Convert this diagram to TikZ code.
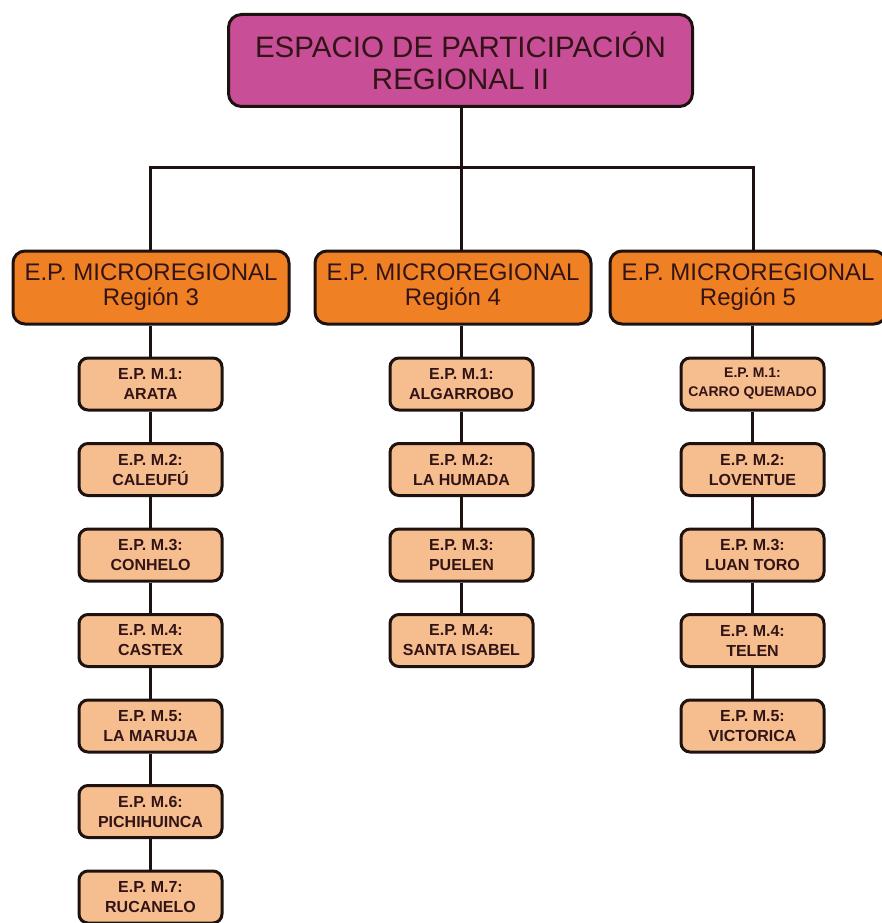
\documentclass[tikz,border=0pt]{standalone}
\usepackage{fontspec}
\setmainfont{Liberation Sans}
\definecolor{topc}{RGB}{200,78,152}
\definecolor{midc}{RGB}{240,128,36}
\definecolor{smallc}{RGB}{246,190,142}
\definecolor{edgec}{RGB}{30,18,16}
\definecolor{txtc}{RGB}{50,20,22}
\begin{document}
\begin{tikzpicture}[x=1pt,y=-1pt,
  base/.style={draw=edgec,line width=3pt,text=txtc,align=center,inner sep=0pt},
  topbox/.style={base,fill=topc,rounded corners=13pt,minimum width=464pt,minimum height=92pt,
     font=\fontsize{29.5}{32}\selectfont},
  midbox/.style={base,fill=midc,rounded corners=12pt,minimum width=276pt,minimum height=73pt,
     font=\fontsize{24}{25}\selectfont},
  smallbox/.style={base,fill=smallc,rounded corners=9pt,minimum width=143pt,minimum height=52pt,
     font=\bfseries\fontsize{16}{20}\selectfont},
  conn/.style={draw=edgec,line width=3pt}]
\useasboundingbox (0,0) rectangle (882,923);
\node[topbox] (top) at (460.5,60.5) {ESPACIO DE PARTICIPACIÓN\\REGIONAL II};
\node[midbox] (r3) at (151,287.5) {E.P. MICROREGIONAL\\Región 3};
\node[midbox] (r4) at (453,287.5) {E.P. MICROREGIONAL\\Región 4};
\node[midbox] (r5) at (748,287.5) {E.P. MICROREGIONAL\\Región 5};
\coordinate (hl) at (150,167);
\coordinate (hm) at (461,167);
\coordinate (hr) at (753,167);
% column region 3
\node[smallbox] (a1) at (150.5,384) {E.P. M.1:\\ARATA};
\node[smallbox] (a2) at (150.5,469.5) {E.P. M.2:\\CALEUFÚ};
\node[smallbox] (a3) at (150.5,555) {E.P. M.3:\\CONHELO};
\node[smallbox] (a4) at (150.5,640.5) {E.P. M.4:\\CASTEX};
\node[smallbox] (a5) at (150.5,726) {E.P. M.5:\\LA MARUJA};
\node[smallbox] (a6) at (150.5,811.5) {E.P. M.6:\\PICHIHUINCA};
\node[smallbox] (a7) at (150.5,897) {E.P. M.7:\\RUCANELO};
% column region 4
\node[smallbox] (b1) at (461.5,384) {E.P. M.1:\\ALGARROBO};
\node[smallbox] (b2) at (461.5,469.5) {E.P. M.2:\\LA HUMADA};
\node[smallbox] (b3) at (461.5,555) {E.P. M.3:\\PUELEN};
\node[smallbox] (b4) at (461.5,640.5) {E.P. M.4:\\SANTA ISABEL};
% column region 5
\node[smallbox,font=\bfseries\fontsize{14}{19}\selectfont] (c1) at (752.5,384) {E.P. M.1:\\CARRO QUEMADO};
\node[smallbox] (c2) at (752.5,469.5) {E.P. M.2:\\LOVENTUE};
\node[smallbox] (c3) at (752.5,555) {E.P. M.3:\\LUAN TORO};
\node[smallbox] (c4) at (752.5,640.5) {E.P. M.4:\\TELEN};
\node[smallbox] (c5) at (752.5,726) {E.P. M.5:\\VICTORICA};
% connectors
\draw[conn] (top.south -| hm) -- (hm);
\draw[conn] (hl) -- (hr);
\draw[conn,line cap=rect] (hl) -- (r3.north -| hl);
\draw[conn] (hm) -- (r4.north -| hm);
\draw[conn,line cap=rect] (hr) -- (r5.north -| hr);
\draw[conn] (r3.south -| a1.north) -- (a1.north);
\draw[conn] (a1) -- (a2); \draw[conn] (a2) -- (a3); \draw[conn] (a3) -- (a4);
\draw[conn] (a4) -- (a5); \draw[conn] (a5) -- (a6); \draw[conn] (a6) -- (a7);
\draw[conn] (r4.south -| b1.north) -- (b1.north);
\draw[conn] (b1) -- (b2); \draw[conn] (b2) -- (b3); \draw[conn] (b3) -- (b4);
\draw[conn] (r5.south -| c1.north) -- (c1.north);
\draw[conn] (c1) -- (c2); \draw[conn] (c2) -- (c3); \draw[conn] (c3) -- (c4); \draw[conn] (c4) -- (c5);
\end{tikzpicture}
\end{document}
